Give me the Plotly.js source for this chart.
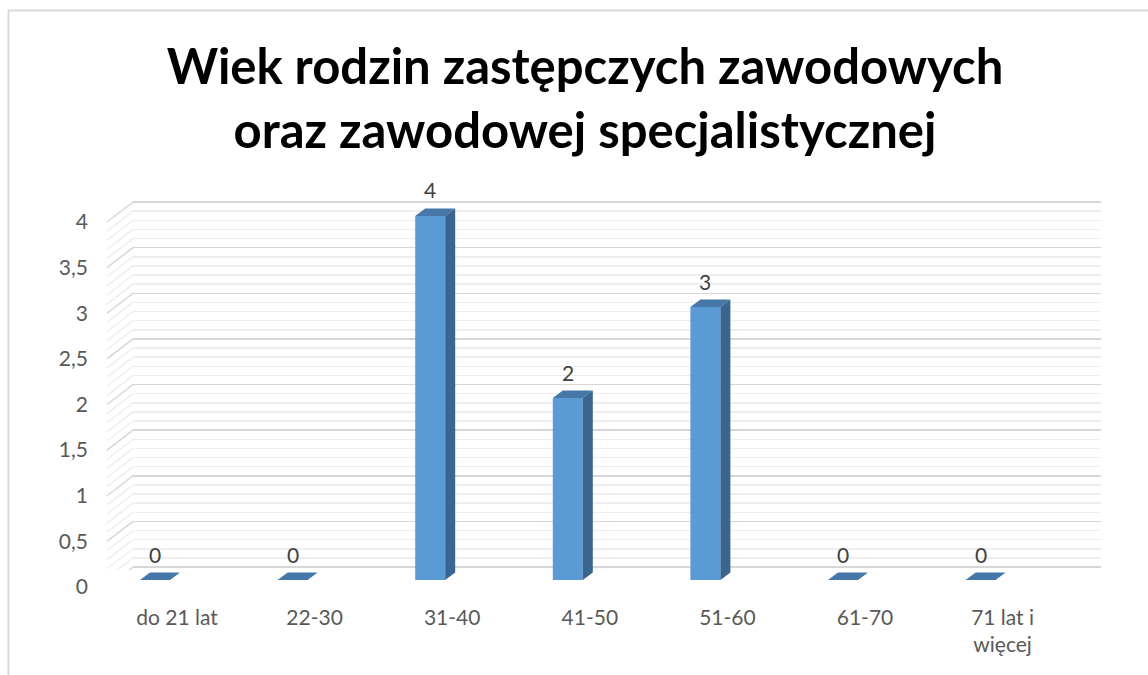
<!DOCTYPE html>
<html>
<head>
<meta charset="utf-8">
<script src="https://cdn.plot.ly/plotly-3.0.1.min.js"></script>
<style>html,body{margin:0;padding:0;background:#fff;}#chart{width:1148px;height:675px;}</style>
</head>
<body>
<div id="chart"></div>
<script>
// ---- data ----
const categories = ['do 21 lat', '22-30', '31-40', '41-50', '51-60', '61-70', '71 lat i<br>więcej'];
const values = [0, 0, 4, 2, 3, 0, 0];
const yTickValues = [0, 0.5, 1, 1.5, 2, 2.5, 3, 3.5, 4];
const chartTitle = 'Wiek rodzin zastępczych zawodowych<br>oraz zawodowej specjalistycznej';

// ---- geometry (pixels) ----
const W = 1148, H = 675;
const wallLeft = 133, wallRight = 1101;     // back wall horizontal extent
const sideFrontX = 107;                       // front edge of left side wall
const backZero = 567, unitPx = 91.25;         // back wall scale
const depthDown = 20;                         // px from back wall to front edge
const barZero = 580, barUnit = 91;            // bar front plane scale
const firstCenter = 155, step = 137.6;        // bar centres
const barPx = 30, dPx = 10, dPy = 7.5;        // bar width and 3D offsets
const labelShift = 22;                        // category labels shift right

const xd = (a, b) => [a / W, b / W];
const yd = (top, bot) => [1 - bot / H, 1 - top / H];

// gridline axis (y / x)
const gTop = 199, gBot = 570;
const gRange = [-(gBot - backZero) / unitPx, (backZero - gTop) / unitPx];
// bar axis (y2 / x2)
const bTop = 190, bBot = 600;
const bRange = [-(bBot - barZero) / barUnit, (barZero - bTop) / barUnit];
const x2Range = [(wallLeft - firstCenter) / step, (wallRight - firstCenter) / step];
const x3Range = [x2Range[0] - labelShift / step, x2Range[1] - labelShift / step];

const idx = categories.map((c, i) => i);
const bw = barPx / step, dxu = dPx / step, dyu = dPy / barUnit;

const shapes = [];
// side wall diagonals
for (let k = 0; k <= 40; k++) {
  const v = k / 10;
  const major = (k % 5 === 0);
  shapes.push({
    type: 'line', xref: 'paper', yref: 'y', layer: 'below',
    x0: sideFrontX / W, y0: v - depthDown / unitPx, x1: wallLeft / W, y1: v,
    line: {color: major ? '#d6d6d6' : '#eeeeee', width: 1.5}
  });
}
// 3D faces for bars
idx.forEach(i => {
  const v = values[i];
  const l = i - bw / 2, r = i + bw / 2;
  shapes.push({
    type: 'path', xref: 'x2', yref: 'y2', layer: 'above',
    path: `M ${l} ${v} L ${r} ${v} L ${r + dxu} ${v + dyu} L ${l + dxu} ${v + dyu} Z`,
    fillcolor: '#4677A9', line: {width: 0}
  });
  if (v > 0) {
    shapes.push({
      type: 'path', xref: 'x2', yref: 'y2', layer: 'above',
      path: `M ${r} 0 L ${r + dxu} ${dyu} L ${r + dxu} ${v + dyu} L ${r} ${v} Z`,
      fillcolor: '#3A6590', line: {width: 0}
    });
  }
});
// outer frame (left + top)
shapes.push({type: 'path', xref: 'paper', yref: 'paper',
  path: `M ${8.5 / W} 0 L ${8.5 / W} ${1 - 10.5 / H} L 1 ${1 - 10.5 / H}`,
  line: {color: '#d9d9d9', width: 2}});

const annotations = idx.map(i => ({
  x: i, y: values[i], xref: 'x2', yref: 'y2', text: String(values[i]),
  showarrow: false, yshift: 26, yanchor: 'middle',
  font: {family: 'Lato, sans-serif', size: 21, color: '#404040'}
}));

const traces = [
  {type: 'bar', x: idx, y: values, xaxis: 'x2', yaxis: 'y2', width: bw,
   marker: {color: '#5B9BD5', line: {width: 0}}, hoverinfo: 'y', showlegend: false},
  // invisible traces to activate helper axes
  {type: 'scatter', x: [0], y: [0], xaxis: 'x', yaxis: 'y', mode: 'markers',
   marker: {opacity: 0}, hoverinfo: 'skip', showlegend: false},
  {type: 'scatter', x: [0], y: [0], xaxis: 'x3', yaxis: 'y3', mode: 'markers',
   marker: {opacity: 0}, hoverinfo: 'skip', showlegend: false}
];

const tickFont = {family: 'Lato, sans-serif', size: 21, color: '#595959'};

const layout = {
  width: W, height: H,
  margin: {l: 0, r: 0, t: 0, b: 0},
  paper_bgcolor: '#ffffff', plot_bgcolor: 'rgba(0,0,0,0)',
  separators: ', ',
  showlegend: false,
  title: {
    text: chartTitle, x: 585 / W, xanchor: 'center', y: 1 - 84 / H, yanchor: 'middle',
    font: {family: 'Lato, sans-serif', size: 49, color: '#000000', weight: 'bold'}
  },
  xaxis: {domain: xd(wallLeft, wallRight), range: [0, 1], visible: false, fixedrange: true},
  yaxis: {domain: yd(gTop, gBot), range: gRange, anchor: 'x',
    showticklabels: false, ticks: '', showline: false, zeroline: false,
    tick0: 0, dtick: 0.5, showgrid: true, gridcolor: '#d6d6d6', gridwidth: 1.5,
    minor: {tick0: 0, dtick: 0.1, showgrid: true, gridcolor: '#eeeeee', gridwidth: 1.5},
    fixedrange: true},
  xaxis2: {domain: xd(wallLeft, wallRight), range: x2Range, anchor: 'y2', visible: false, fixedrange: true},
  yaxis2: {domain: yd(bTop, bBot), range: bRange, anchor: 'x2', visible: false, fixedrange: true},
  xaxis3: {domain: xd(wallLeft, wallRight), range: x3Range, anchor: 'free', position: 1 - 603 / H,
    tickmode: 'array', tickvals: idx, ticktext: categories, ticks: '', showgrid: false,
    zeroline: false, showline: false, tickfont: tickFont, fixedrange: true},
  yaxis3: {domain: yd(gTop + depthDown, gBot + depthDown), range: gRange, anchor: 'free',
    position: 88 / W, side: 'left', tickmode: 'array', tickvals: yTickValues,
    ticks: '', showgrid: false, zeroline: false, showline: false,
    tickfont: tickFont, fixedrange: true},
  shapes: shapes,
  annotations: annotations
};

Plotly.newPlot('chart', traces, layout, {displayModeBar: false, staticPlot: true});
</script>
</body>
</html>
